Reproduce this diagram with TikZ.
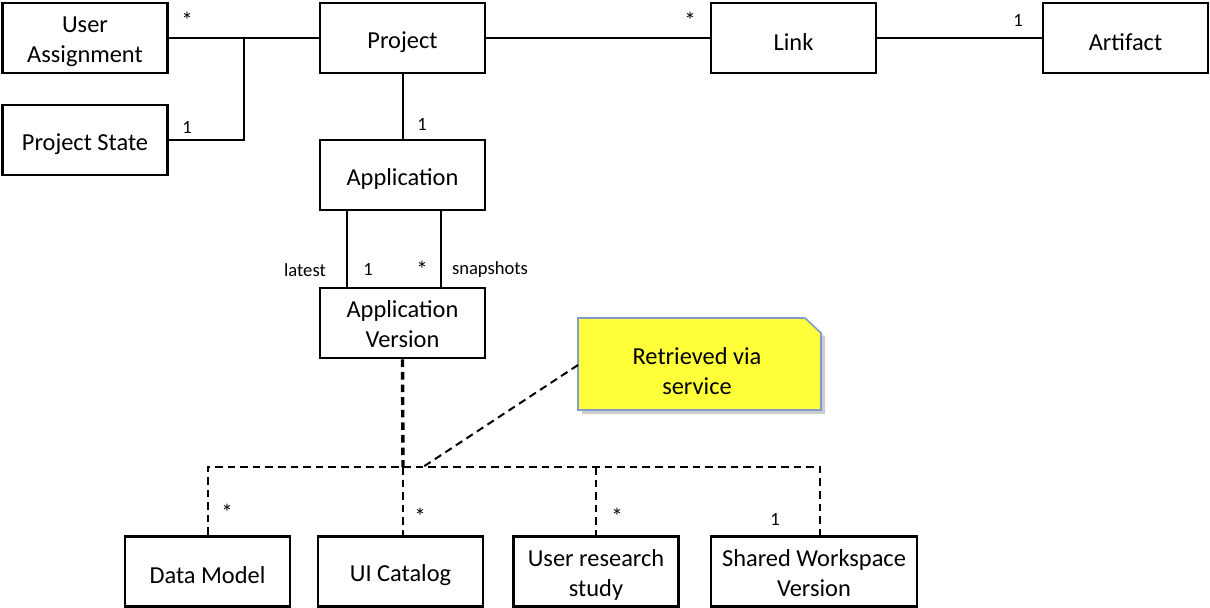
\documentclass[tikz,border=0pt]{standalone}
\usepackage{fontspec}
\setmainfont{Carlito}
\usetikzlibrary{calc}
\definecolor{noteyellow}{HTML}{FFFF3A}
\definecolor{noteborder}{HTML}{7F9CCB}
\newcommand{\mystar}{\raisebox{-2.2pt}{\fontsize{11.5}{12}\selectfont *}}
\newcommand{\twolines}[2]{\begin{tabular}{@{}c@{}}\rule{0pt}{14.2pt}#1\\#2\end{tabular}}
\begin{document}
\begin{tikzpicture}[x=0.5pt,y=-0.5pt,
  box/.style={draw, line width=1.4pt, minimum width=82.5pt, minimum height=35pt, inner sep=0pt, font=\fontsize{12.2}{15}\selectfont},
  onebox/.style={box, execute at begin node={\rule{0pt}{12.2pt}}},
  conn/.style={line width=1pt},
  dconn/.style={line width=1pt, dash pattern=on 3.8pt off 2.5pt},
  mult/.style={font=\fontsize{9.3}{11}\selectfont, inner sep=0pt}]
\useasboundingbox (0,0) rectangle (1210,608);
% boxes
\node[box] (ua) at (85,38) {\twolines{User}{Assignment}};
\node[onebox] (ps) at (85,140) {Project State};
\node[onebox] (proj) at (402.5,38) {Project};
\node[onebox] (link) at (793.5,38) {Link};
\node[onebox] (art) at (1125.5,38) {Artifact};
\node[onebox] (app) at (402.5,175) {Application};
\node[box] (av) at (402.5,323) {\twolines{Application}{Version}};
\node[onebox] (dm) at (207.5,571.5) {Data Model};
\node[onebox] (ui) at (400.5,571.5) {UI Catalog};
\node[box] (urs) at (596,571.5) {\twolines{User research}{study}};
\node[box, minimum width=103pt] (sw) at (814,571.5) {\twolines{Shared Workspace}{Version}};
% note
\fill[gray!40] (582,322) -- (809,322) -- (825,337) -- (825,414) -- (582,414) -- cycle;
\draw[fill=noteyellow, draw=noteborder, line width=0.8pt] (578,318) -- (805,318) -- (821,333) -- (821,410) -- (578,410) -- cycle;
\node[font=\fontsize{12.2}{15}\selectfont, inner sep=0pt] (note) at (697,370) {\twolines{Retrieved via}{service}};
\coordinate (notel) at (578,365);
% top connectors
\coordinate (j1) at (244,38);
\draw[conn] (ua.east) -- (proj.west);
\draw[conn] (ps.east) -| (j1);
\draw[conn] (proj.east) -- (link.west);
\draw[conn] (link.east) -- (art.west);
\draw[conn] (proj.south) -- (app.north);
\draw[conn] ($(app.south west)!0.17!(app.south east)$) -- ($(av.north west)!0.17!(av.north east)$);
\draw[conn] ($(app.south west)!0.73!(app.south east)$) -- ($(av.north west)!0.73!(av.north east)$);
% labels
\node[mult] at (187,20) {\mystar};
\node[mult] at (187,128) {1};
\node[mult] at (690,20) {\mystar};
\node[mult] at (1018,21) {1};
\node[mult] at (422,125) {1};
\node[mult] at (305,270) {latest};
\node[mult] at (368,270) {1};
\node[mult] at (422,269) {\mystar};
\node[mult] at (490,270) {snapshots};
% dashed
\coordinate (jd) at (403,467);
\coordinate (swt) at (820,537);
\draw[dconn, line width=1.7pt] (av.south) -- (jd);
\draw[dconn] (dm.north) |- (jd);
\draw[dconn] (jd) -| (swt);
\draw[dconn] (jd) -- (jd |- ui.north);
\draw[dconn] (jd -| urs.north) -- (urs.north);
\draw[dconn] (notel) -- (423,467);
\node[mult] at (227,512) {\mystar};
\node[mult] at (420,516) {\mystar};
\node[mult] at (617,516) {\mystar};
\node[mult] at (775,520) {1};
\end{tikzpicture}
\end{document}
